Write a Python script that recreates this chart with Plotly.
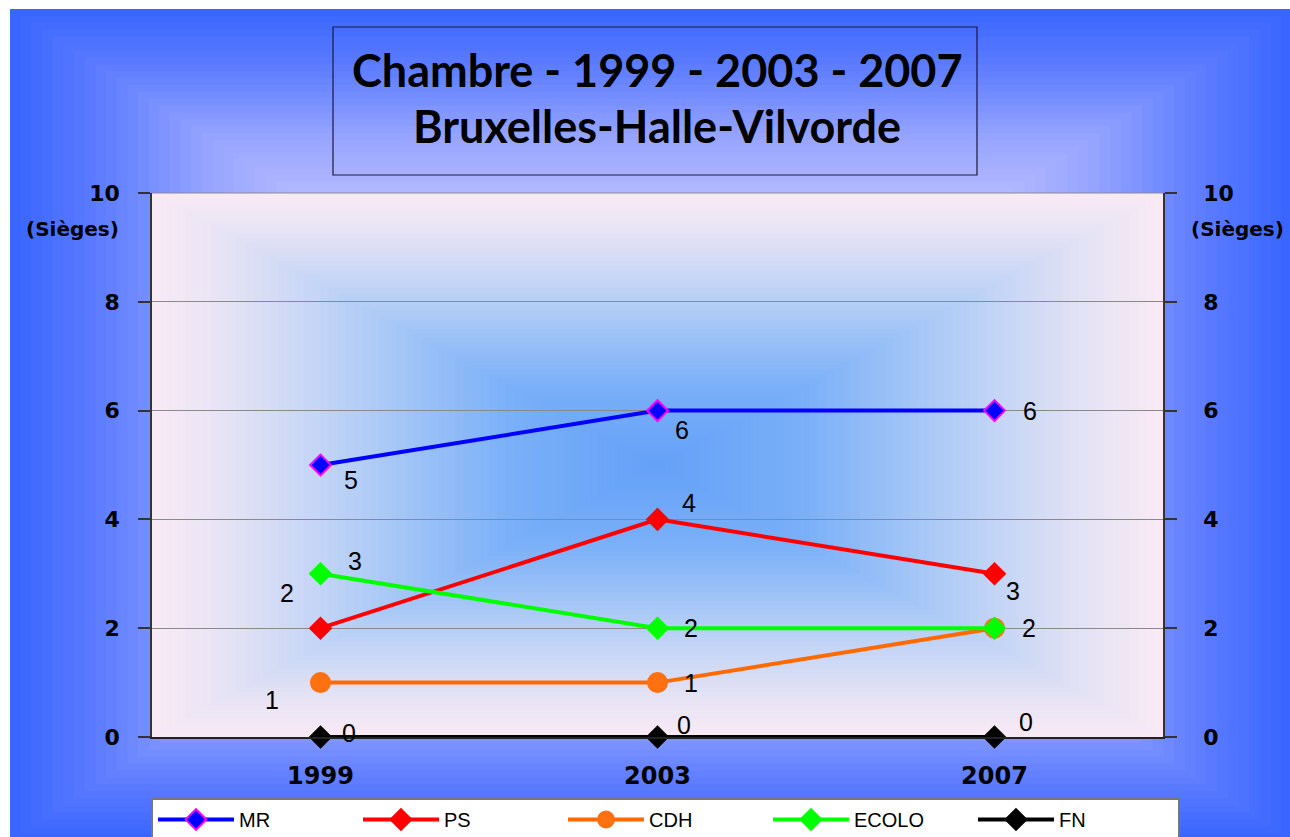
import plotly.graph_objects as go

# ---------------- data ----------------
years = ["1999", "2003", "2007"]
mr = [5, 6, 6]
ps = [2, 4, 3]
cdh = [1, 1, 2]
ecolo = [3, 2, 2]
fn = [0, 0, 0]
y_ticks = [0, 2, 4, 6, 8, 10]
title_line1 = "Chambre - 1999 - 2003 - 2007"
title_line2 = "Bruxelles-Halle-Vilvorde"
unit_label = "(Sièges)"

# ---------------- geometry (reference-pixel frame; body margin removed by post_script) ----------------
OFF = 0
W, H = 1290 - OFF, 837 - OFF
L, R, T, B = 152, 1163, 193, 737
PW, PH = R - L, B - T


def px_x(px):
    return (px - L) / PW


def px_y(py):
    return (B - py) / PH


def interp(stops, t):
    for (t0, c0), (t1, c1) in zip(stops[:-1], stops[1:]):
        if t0 <= t <= t1:
            f = (t - t0) / (t1 - t0) if t1 > t0 else 0
            c = [round(a + (b - a) * f) for a, b in zip(c0, c1)]
            return "rgb(%d,%d,%d)" % tuple(c)
    return "rgb(%d,%d,%d)" % tuple(stops[-1][1])


shapes = []
# outer background: rectangular gradient from centre
outer_stops = [(0.0, (215, 215, 255)), (0.5, (192, 194, 255)), (0.7, (150, 164, 255)),
               (0.85, (98, 128, 255)), (1.0, (58, 102, 255))]
ox0, ox1, oy0, oy1 = px_x(10), px_x(1292), px_y(840), px_y(9)
ocx, ocy = px_x(650), px_y(423)
N = 60
for i in range(N):
    s = 1 - i / N
    shapes.append(dict(type="rect", xref="paper", yref="paper", layer="below",
                       x0=ocx - s * (ocx - ox0), x1=ocx + s * (ox1 - ocx),
                       y0=ocy - s * (ocy - oy0), y1=ocy + s * (oy1 - ocy),
                       line=dict(width=0), fillcolor=interp(outer_stops, s)))

# plot area: rectangular gradient from centre
plot_stops = [(0.0, (100, 160, 248)), (0.3, (122, 176, 248)), (0.6, (180, 206, 246)),
              (0.85, (228, 226, 245)), (1.0, (248, 234, 245))]
for i in range(N):
    s = 1 - i / N
    shapes.append(dict(type="rect", xref="paper", yref="paper", layer="below",
                       x0=0.5 - 0.5 * s, x1=0.5 + 0.5 * s,
                       y0=0.5 - 0.5 * s, y1=0.5 + 0.5 * s,
                       line=dict(width=0), fillcolor=interp(plot_stops, s)))

# title box
shapes.append(dict(type="rect", xref="paper", yref="paper", layer="above",
                   x0=px_x(333), x1=px_x(977), y0=px_y(175), y1=px_y(27),
                   line=dict(color="#1a1a3a", width=1.2), fillcolor="rgba(0,0,0,0)"))
# top border of plot
shapes.append(dict(type="line", xref="paper", yref="paper", layer="below",
                   x0=0, x1=1, y0=1, y1=1, line=dict(color="#8a8a8a", width=1)))

fig = go.Figure()

series = [
    ("MR", mr, "#0000ff", "diamond", "#0000ff", "#ff00ff", 16),
    ("PS", ps, "#ff0000", "diamond", "#ff0000", "#ff0000", 16),
    ("CDH", cdh, "#ff6a00", "circle", "#ff7010", "#ff7010", 19),
    ("ECOLO", ecolo, "#00ff00", "diamond", "#00ff00", "#00ff00", 16),
    ("FN", fn, "#000000", "diamond", "#000000", "#000000", 16),
]
for name, vals, lc, sym, fc, bc, sz in series:
    fig.add_trace(go.Scatter(
        x=years, y=vals, name=name, mode="lines+markers",
        line=dict(color=lc, width=4),
        marker=dict(symbol=sym, size=sz, color=fc, line=dict(color=bc, width=2)),
        cliponaxis=False,
    ))
# invisible trace for right axis
fig.add_trace(go.Scatter(x=years, y=fn, yaxis="y2", showlegend=False,
                         mode="markers", marker=dict(opacity=0), hoverinfo="skip"))

# data labels (offset in px)
label_offsets = {
    "MR": [(30, -15), (24, -19), (35, 0)],
    "PS": [(-34, 35), (31, 16), (18, -17)],
    "CDH": [(-49, -17), (33, 0), None],
    "ECOLO": [(34, 13), (33, 0), (34, 0)],
    "FN": [(28, 4), (26, 12), (31, 15)],
}
annotations = []
for name, vals, *_ in series:
    for j, v in enumerate(vals):
        off = label_offsets[name][j]
        if off is None:
            continue
        annotations.append(dict(x=j, y=v, xref="x", yref="y", text=str(v),
                                showarrow=False, xshift=off[0], yshift=off[1],
                                xanchor="center", yanchor="middle",
                                font=dict(family="Liberation Sans, Arial", size=25, color="black")))

title_font = "Lato, Gill Sans, sans-serif"
tick_font = "DejaVu Sans, sans-serif"
annotations += [
    dict(x=px_x(657), y=px_y(70), xref="paper", yref="paper", showarrow=False,
         xanchor="center", yanchor="middle",
         text="<b>%s</b>" % title_line1, font=dict(family=title_font, size=45, color="black")),
    dict(x=px_x(657), y=px_y(126), xref="paper", yref="paper", showarrow=False,
         xanchor="center", yanchor="middle",
         text="<b>%s</b>" % title_line2, font=dict(family=title_font, size=45, color="black")),
    dict(x=px_x(72), y=px_y(229), xref="paper", yref="paper", showarrow=False,
         xanchor="center", yanchor="middle",
         text="<b>%s</b>" % unit_label, font=dict(family=tick_font, size=20, color="black")),
    dict(x=px_x(1237), y=px_y(229), xref="paper", yref="paper", showarrow=False,
         xanchor="center", yanchor="middle",
         text="<b>%s</b>" % unit_label, font=dict(family=tick_font, size=20, color="black")),
]

yaxis_common = dict(
    range=[0, 10], tickvals=y_ticks, ticktext=["<b>%d</b>" % v for v in y_ticks],
    tickfont=dict(family=tick_font, size=22, color="black"),
    ticks="outside", ticklen=12, tickcolor="#333", tickwidth=1.5,
    showline=True, linecolor="#333", linewidth=1.5, zeroline=False, fixedrange=True,
)

fig.update_layout(
    width=W, height=H,
    margin=dict(l=L - OFF, r=W - (R - OFF), t=T - OFF, b=H - (B - OFF), pad=0, autoexpand=False),
    paper_bgcolor="white", plot_bgcolor="rgba(0,0,0,0)",
    shapes=shapes, annotations=annotations,
    xaxis=dict(type="category", range=[-0.5, 2.5], showgrid=False,
               tickfont=dict(family=tick_font, size=24, color="black"),
               ticktext=["<b>%s</b>" % y for y in years], tickvals=years,
               ticks="", showline=True, linecolor="#222", linewidth=2,
               ticklabelstandoff=16, zeroline=False),
    yaxis=dict(**yaxis_common, side="left", showgrid=True, gridcolor="#8a8a8a",
               gridwidth=1, ticklabelstandoff=14),
    yaxis2=dict(**yaxis_common, side="right", overlaying="y", showgrid=False,
                ticklabelstandoff=22),
    legend=dict(orientation="h", x=-0.001, xanchor="left", y=px_y(798), yanchor="top",
                bgcolor="white", bordercolor="#777", borderwidth=2,
                font=dict(family="Liberation Sans Narrow, Arial Narrow, Liberation Sans", size=20,
                          color="black"),
                entrywidth=114, itemwidth=76, tracegroupgap=0),
    showlegend=True,
)

fig.write_html("out.html", config={"displayModeBar": False},
               post_script="document.body.style.margin='0';"
                           "document.documentElement.style.overflow='hidden';"
                           "document.body.style.overflow='hidden';")
